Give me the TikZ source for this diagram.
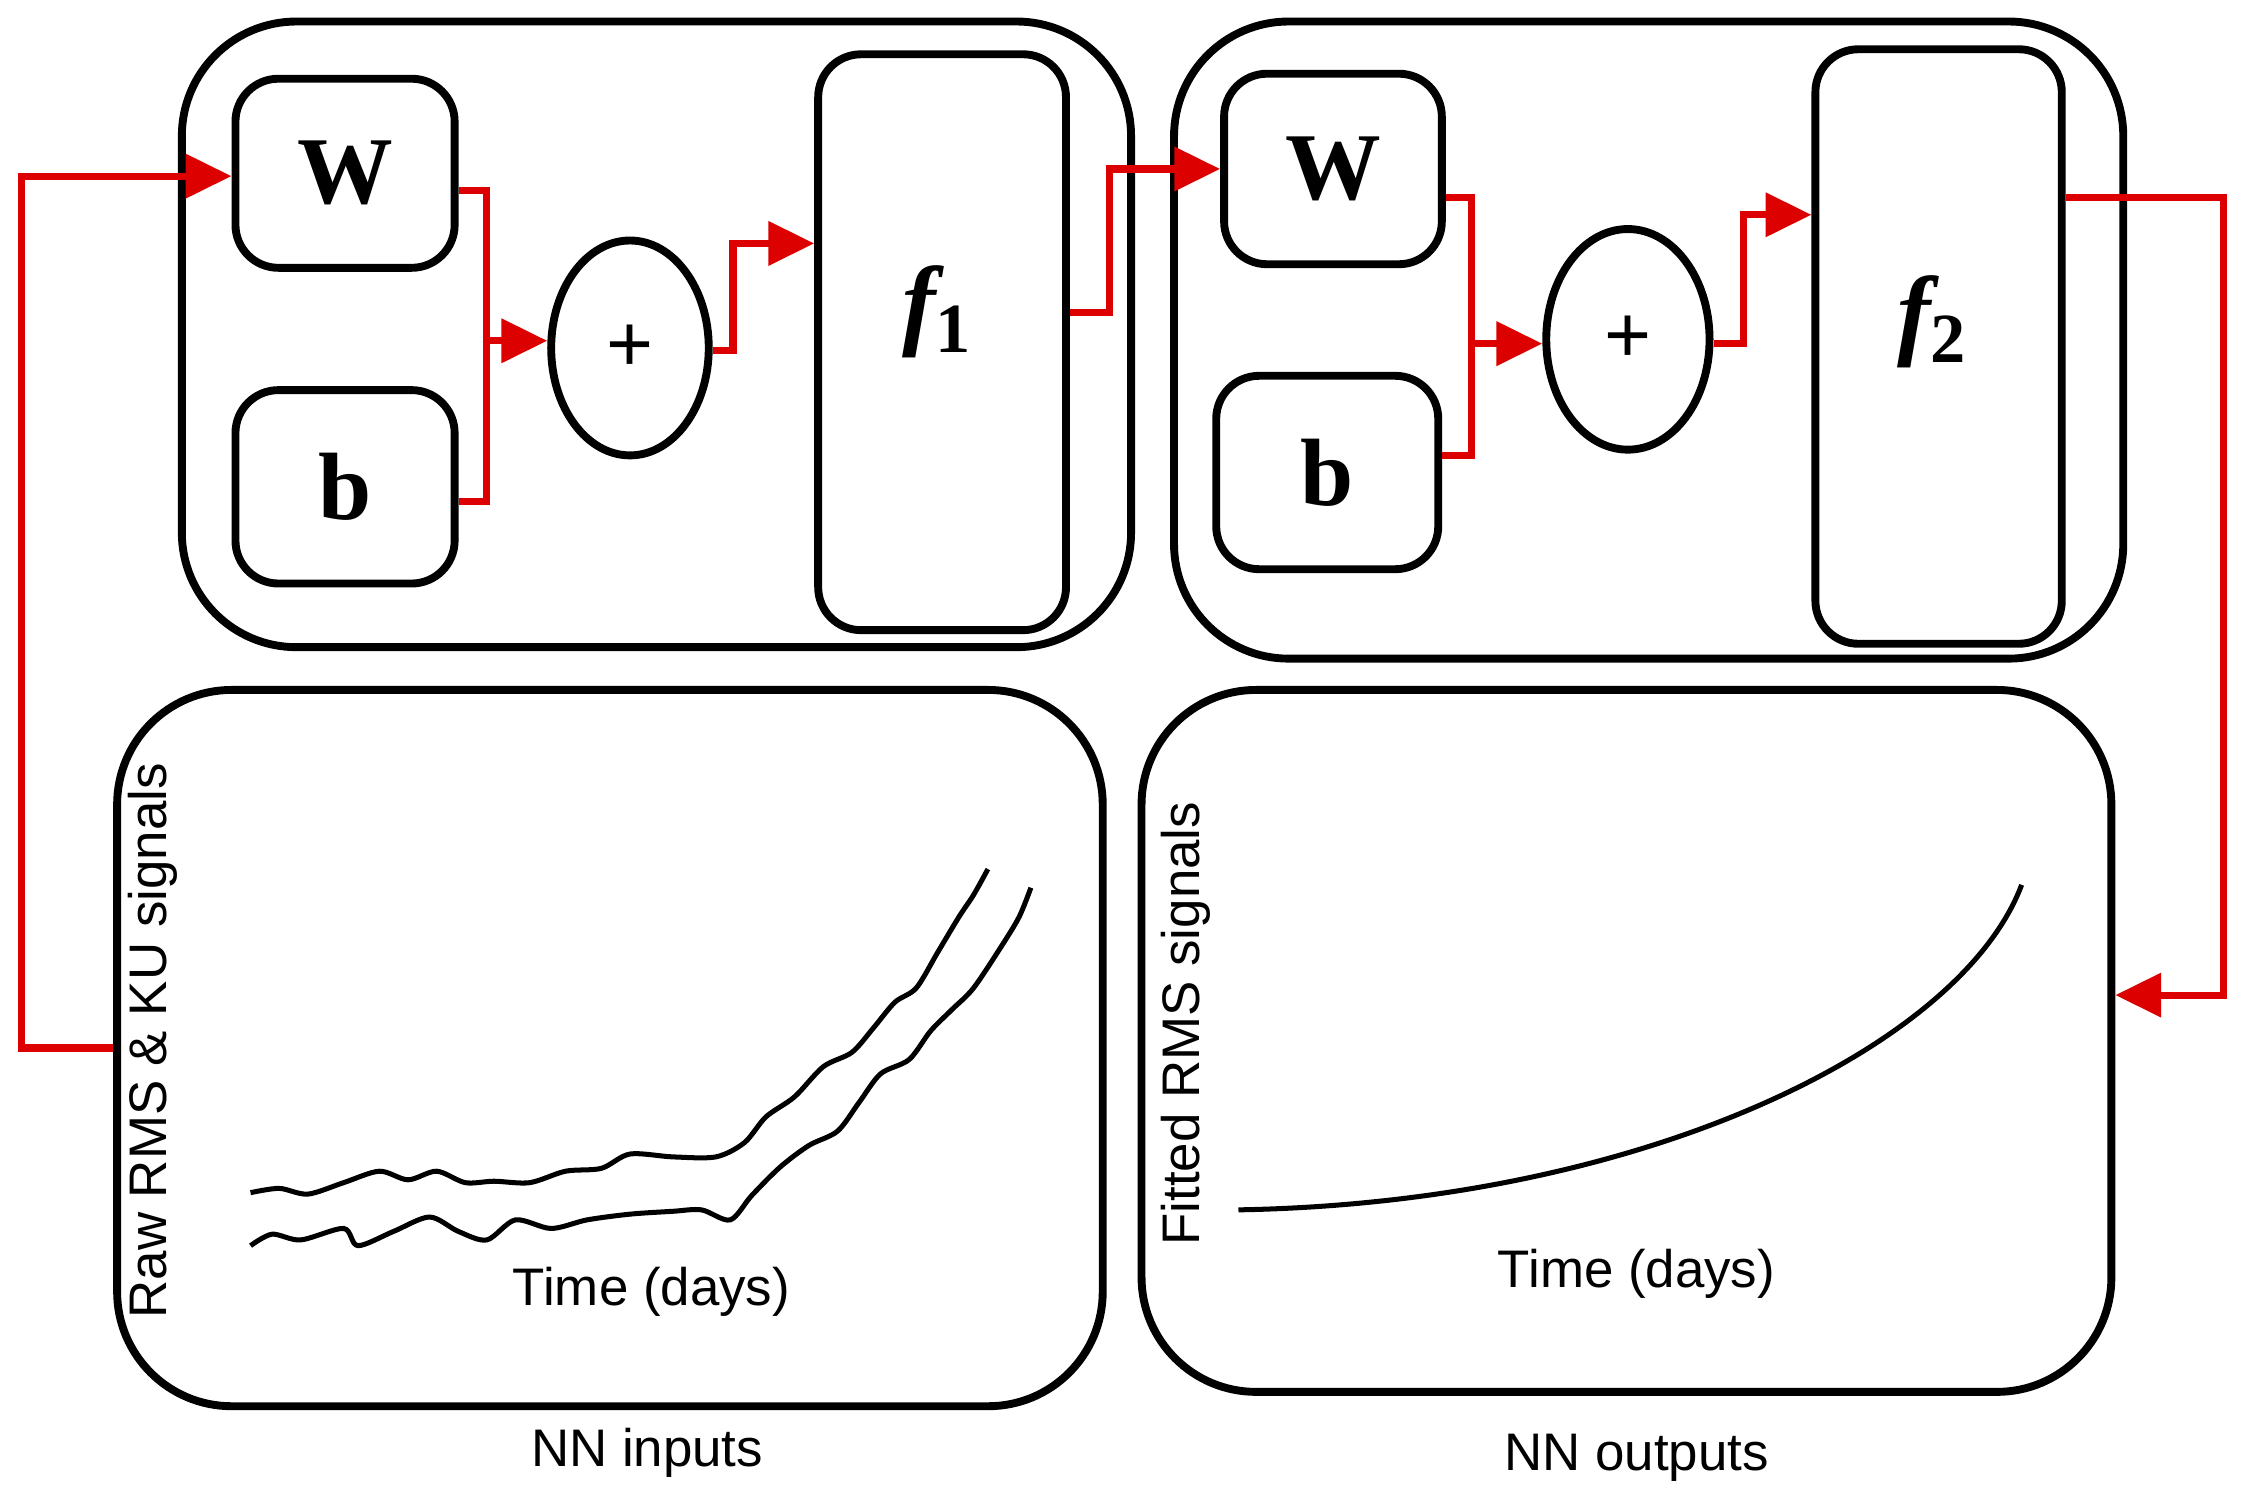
\documentclass[tikz,border=0pt]{standalone}
\usepackage{fontspec}
\setmainfont{Liberation Sans}
\newfontfamily\serifb{Liberation Serif}
\usetikzlibrary{arrows.meta,shapes.geometric}
\begin{document}
\begin{tikzpicture}[x=0.01cm,y=-0.01cm,
 blk/.style={draw,line width=0.055cm,rounded corners=0.3cm},
 big/.style={draw,line width=0.055cm,rounded corners=0.8cm},
 red/.style={draw={rgb,255:red,220;green,0;blue,0},line width=0.05cm},
 arr/.style={red,-{Triangle[length=0.32cm,width=0.3cm]}},
 lab/.style={font=\fontsize{10.5pt}{12pt}\selectfont},
 wb/.style={font=\serifb\bfseries\fontsize{19pt}{20pt}\selectfont}]
\useasboundingbox (0,0) rectangle (1568,1050);
% top boxes
\draw[big] (127,15) rectangle (790,452);
\draw[big] (820,15) rectangle (1483,460);
\node[blk,minimum width=1.53cm,minimum height=1.32cm,wb] (W1) at (241,121) {W};
\node[blk,minimum width=1.53cm,minimum height=1.35cm,wb] (b1) at (241,340) {b};
\node[draw,ellipse,line width=0.055cm,minimum width=1.1cm,minimum height=1.5cm,font=\fontsize{16pt}{16pt}\selectfont] (s1) at (440,243) {+};
\node[blk,minimum width=1.73cm,minimum height=4.02cm] (f1) at (658,239) {};
\node[font=\serifb\bfseries\itshape\fontsize{20pt}{20pt}\selectfont] at (655,218) {f\textsubscript{\upshape1}};
\node[blk,minimum width=1.52cm,minimum height=1.33cm,wb] (W2) at (931,118) {W};
\node[blk,minimum width=1.55cm,minimum height=1.35cm,wb] (b2) at (927,330) {b};
\node[draw,ellipse,line width=0.055cm,minimum width=1.14cm,minimum height=1.54cm,font=\fontsize{16pt}{16pt}\selectfont] (s2) at (1137,237) {+};
\node[blk,minimum width=1.72cm,minimum height=4.15cm] (f2) at (1354,242) {};
\node[font=\serifb\bfseries\itshape\fontsize{20pt}{20pt}\selectfont] at (1350,225) {f\textsubscript{\upshape2}};
% bottom boxes
\node[big,minimum width=6.88cm,minimum height=5cm] (in) at (426,732) {};
\node[big,minimum width=6.77cm,minimum height=4.9cm] (out) at (1136,727) {};
\node[lab] (nin) at (452,1015) {NN inputs};
\node[lab] (nout) at (1143,1018) {NN outputs};
\node[lab,rotate=90] (yl) at (107,727) {Raw RMS \& KU signals};
\node[lab] (xl) at (455,902) {Time (days)};
\node[lab,rotate=90] (yr) at (828,715) {Fitted RMS signals};
\node[lab] (xr) at (1143,890) {Time (days)};
\draw[line width=0.035cm] (865,845) .. controls (1150,840) and (1370,730) .. (1412,618);
\draw[line width=0.035cm,smooth] plot coordinates {(175,833)(195,830)(215,834)(240,826)(265,818)(285,824)(305,818)(325,826)(345,825)(370,826)(395,818)(420,816)(440,806)(470,808)(500,808)(520,798)(535,780)(555,766)(575,745)(595,735)(610,718)(625,700)(640,690)(655,665)(670,640)(680,625)(690,607)};
\draw[line width=0.035cm,smooth] plot coordinates {(175,870)(190,862)(210,866)(240,858)(250,870)(275,860)(300,850)(320,860)(340,866)(360,852)(385,858)(410,852)(440,848)(470,846)(490,845)(510,852)(525,835)(545,815)(565,800)(585,790)(600,770)(615,750)(635,740)(650,720)(665,705)(680,690)(700,660)(712,640)(720,620)};
% red connectors
\coordinate (c1) at (15,732); \coordinate (c2) at (15,123);
\draw[arr] (in.west |- 0,732) -- (c1) -- (c2) -- (W1.west |- 0,123);
\draw[red] (W1.east |- 0,133) -- (340,133) -- (340,350) -- (b1.east |- 0,350);
\draw[arr] (340,238) -- (s1.west |- 0,238);
\draw[arr] (s1.east |- 0,245) -- (512,245) -- (512,170) -- (f1.west |- 0,170);
\draw[arr] (f1.east |- 0,218) -- (775,218) -- (775,118) -- (W2.west |- 0,118);
\draw[red] (W2.east |- 0,138) -- (1028,138) -- (1028,318) -- (b2.east |- 0,318);
\draw[arr] (1028,240) -- (s2.west |- 0,240);
\draw[arr] (s2.east |- 0,240) -- (1218,240) -- (1218,150) -- (f2.west |- 0,150);
\draw[arr] (f2.east |- 0,138) -- (1553,138) -- (1553,695) -- (out.east |- 0,695);
\end{tikzpicture}
\end{document}
